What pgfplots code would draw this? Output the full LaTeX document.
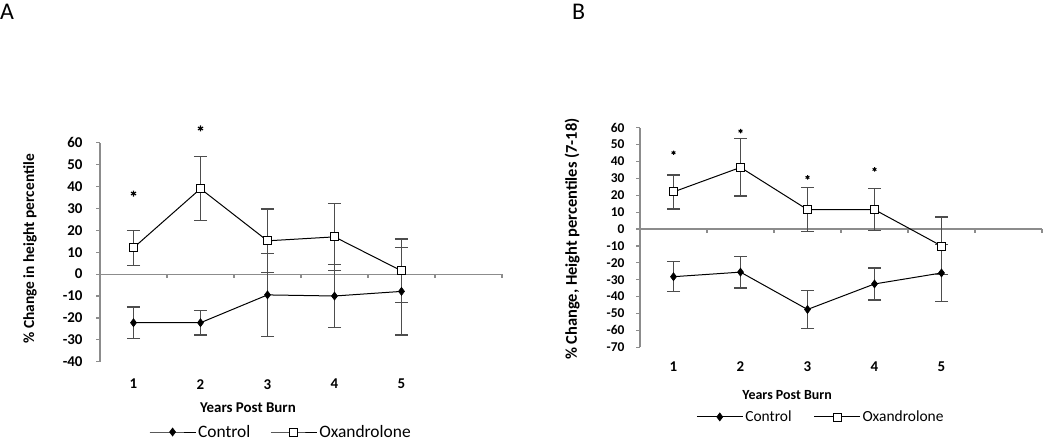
\documentclass[border=0pt]{standalone}
\usepackage{fontspec}
\setmainfont{Carlito}
\usepackage{pgfplots}
\pgfplotsset{compat=1.18}
\definecolor{axgray}{HTML}{8C8C8C}
\definecolor{errgray}{HTML}{4D4D4D}
\pgfplotsset{
  panel/.style={
    scale only axis,
    anchor=south west,
    xmin=0.5, xmax=6.5,
    axis y line*=left,
    axis x line*=bottom,
    x axis line style={draw=none},
    y axis line style={axgray, line width=1.2bp},
    xtick={1,2,3,4,5},
    xticklabels={1,2,3,4,5},
    major x tick style={draw=none},
    major y tick style={axgray, line width=1.2bp},
    tick align=outside,
    major tick length=4bp,
    ticklabel style={font=\bfseries\fontsize{15}{15}\selectfont},
    xlabel style={font=\bfseries\fontsize{15}{15}\selectfont},
    ylabel style={font=\bfseries\fontsize{15.5}{15.5}\selectfont},
    clip=false,
    legend columns=2,
    legend style={draw=none, fill=none},
    legend image code/.code={
      \draw[mark repeat=2,mark phase=2,#1] plot coordinates {(0bp,0bp) (23bp,0bp) (46bp,0bp)};
    },
  },
  ctrl/.style={black, line width=1bp, mark=diamond*, mark size=4bp,
    mark options={fill=black, line width=0.6bp},
    error bars/.cd, y dir=both, y explicit,
    error bar style={errgray, line width=1.5bp},
    error mark options={errgray, line width=1.5bp, mark size=6.5bp, rotate=90}},
  oxa/.style={black, line width=1bp, mark=square*, mark size=4bp,
    mark options={fill=white, line width=0.8bp},
    error bars/.cd, y dir=both, y explicit,
    error bar style={errgray, line width=1.5bp},
    error mark options={errgray, line width=1.5bp, mark size=6.5bp, rotate=90}},
  zeroline/.style={axgray, line width=1.2bp, mark=none, forget plot,
    error bars/.cd, y dir=minus, y explicit, error mark=none,
    error bar style={axgray, line width=1.2bp}},
}
\begin{document}
\begin{tikzpicture}
\path[use as bounding box] (0bp,0bp) rectangle (1050bp,-445bp);
\node[anchor=north west, inner sep=0pt, font=\fontsize{24}{24}\selectfont] at (0bp,-4bp) {A};
\node[anchor=north west, inner sep=0pt, font=\fontsize{24}{24}\selectfont] at (572bp,-4bp) {B};
% Panel A
\begin{axis}[panel,
  at={(100bp,-361.7bp)},
  width=402bp, height=219bp,
  ymin=-40, ymax=60,
  ytick={-40,-30,-20,-10,0,10,20,30,40,50,60},
  yticklabels={-40,-30,-20,-10,0,10,20,30,40,50,60},
  yticklabel style={xshift=-10bp},
  xticklabel style={yshift=-10bp},
  xlabel={Years Post Burn},
  ylabel={\% Change in height percentile},
  xlabel style={at={(axis description cs:0.368,-0.211)}, anchor=center},
  ylabel style={at={(axis description cs:-0.174,0.515)}, anchor=center},
  legend style={at={(axis description cs:0.45,-0.321)}, anchor=center,
    font=\fontsize{17.5}{17.5}\selectfont,
    /tikz/every even column/.append style={column sep=18bp}},
]
\addplot[zeroline] coordinates {(0.5,0) (1.5,0) -= (0,1.8) (2.5,0) -= (0,1.8) (3.5,0) -= (0,1.8) (4.5,0) -= (0,1.8) (5.5,0) -= (0,1.8) (6.5,0) -= (0,1.8)};
\addplot[ctrl] coordinates {
  (1,-22.2) +- (0,7.2)
  (2,-22.2) +- (0,5.6)
  (3,-9.5) +- (0,19)
  (4,-10) +- (0,14.4)
  (5,-7.9) +- (0,20)
};
\addlegendentry{Control}
\addplot[oxa] coordinates {
  (1,12) +- (0,8)
  (2,39) +- (0,14.6)
  (3,15.2) +- (0,14.5)
  (4,17) +- (0,15.3)
  (5,1.5) +- (0,14.5)
};
\addlegendentry{Oxandrolone}
\addplot[only marks, mark=asterisk, mark size=3bp, line width=1.1bp, forget plot] coordinates {(1,36.8) (2,66.5)};
\end{axis}
% Panel B
\begin{axis}[panel,
  at={(640bp,-347.3bp)},
  width=402bp, height=219.6bp,
  ymin=-70, ymax=60,
  ytick={-70,-60,-50,-40,-30,-20,-10,0,10,20,30,40,50,60},
  yticklabels={-70,-60,-50,-40,-30,-20,-10,0,10,20,30,40,50,60},
  yticklabel style={font=\bfseries\fontsize{13.5}{13.5}\selectfont, xshift=-8bp},
  xticklabel style={yshift=-7bp},
  xlabel={Years Post Burn},
  ylabel={\% Change, Height percentiles (7-18)},
  xlabel style={at={(axis description cs:0.366,-0.217)}, anchor=center, font=\bfseries\fontsize{14}{14}\selectfont},
  ylabel style={at={(axis description cs:-0.169,0.493)}, anchor=center, font=\bfseries\fontsize{16.5}{16.5}\selectfont},
  legend style={at={(axis description cs:0.45,-0.317)}, anchor=center,
    font=\fontsize{15.5}{15.5}\selectfont,
    /tikz/every even column/.append style={column sep=20bp}},
]
\addplot[zeroline] coordinates {(0.5,0) (1.5,0) -= (0,2.4) (2.5,0) -= (0,2.4) (3.5,0) -= (0,2.4) (4.5,0) -= (0,2.4) (5.5,0) -= (0,2.4) (6.5,0) -= (0,2.4)};
\addplot[ctrl] coordinates {
  (1,-28.2) +- (0,8.9)
  (2,-25.5) +- (0,9.3)
  (3,-47.6) +- (0,11.3)
  (4,-32.5) +- (0,9.5)
  (5,-26) +- (0,17)
};
\addlegendentry{Control}
\addplot[oxa] coordinates {
  (1,22) +- (0,10)
  (2,36.5) +- (0,17)
  (3,11.5) +- (0,13)
  (4,11.5) +- (0,12.5)
  (5,-10) +- (0,17)
};
\addlegendentry{Oxandrolone}
\addplot[only marks, mark=asterisk, mark size=2.2bp, line width=1bp, forget plot] coordinates {(1,45.2) (2,58) (3,30.6) (4,35.3)};
\end{axis}
\end{tikzpicture}
\end{document}
